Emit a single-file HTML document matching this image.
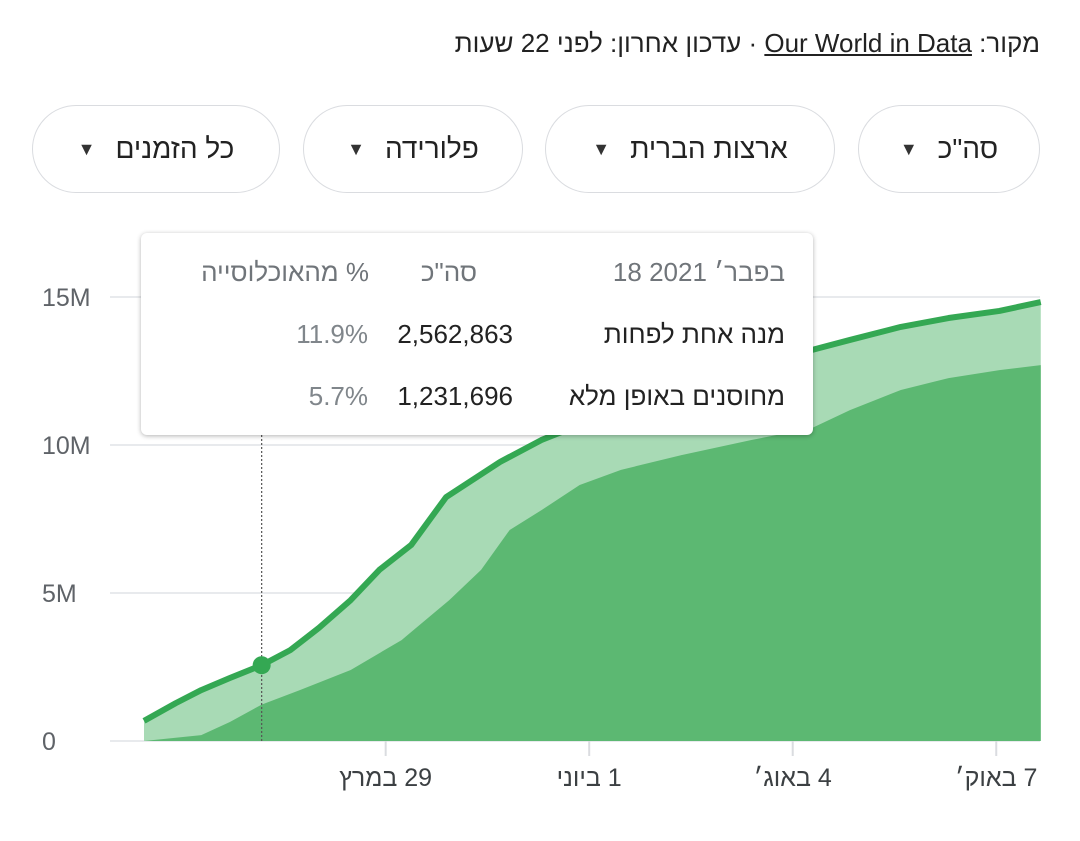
<!DOCTYPE html>
<html><head><meta charset="utf-8"><style>
body{margin:0;width:1080px;height:841px;background:#fff;font-family:"Liberation Sans","Noto Sans CJK SC",sans-serif;overflow:hidden;position:relative}
.hdr{position:absolute;right:40px;top:28px;font-size:26px;color:#222;direction:rtl}
.hdr a{color:#222;text-decoration:underline}
.chip{position:absolute;top:105px;height:88px;border:1.5px solid #dadce0;border-radius:46px;box-sizing:border-box;font-size:28px;color:#222;direction:rtl;display:flex;align-items:center;justify-content:center;gap:20px}
.chip span.a{font-size:18px;color:#333}
.tip{position:absolute;left:141px;top:233px;width:672px;height:202px;background:#fff;border-radius:6px;box-shadow:0 1px 5px rgba(0,0,0,.3);font-size:26px}
.tip div{position:absolute;white-space:nowrap}
</style></head><body>
<div class="hdr">מקור: <a>Our World in Data</a> · עדכון אחרון: לפני 22 שעות</div>
<div class="chip" style="left:858px;width:182px">סה"כ <span class="a">▼</span></div>
<div class="chip" style="left:545px;width:290px">ארצות הברית <span class="a">▼</span></div>
<div class="chip" style="left:303px;width:220px">פלורידה <span class="a">▼</span></div>
<div class="chip" style="left:32px;width:248px">כל הזמנים <span class="a">▼</span></div>
<svg id="chart" width="1080" height="841" style="position:absolute;left:0;top:0"></svg>
<div class="tip">
<div style="right:28px;top:24px;color:#70757a">18 בפבר׳ 2021</div>
<div style="right:336px;top:24px;color:#70757a">סה"כ</div>
<div style="right:444px;top:24px;color:#70757a;direction:rtl">% מהאוכלוסייה</div>
<div style="right:28px;top:86px;color:#222;direction:rtl">מנה אחת לפחות</div>
<div style="right:300px;top:86px;color:#222">2,562,863</div>
<div style="right:445px;top:86px;color:#80868b">11.9%</div>
<div style="right:28px;top:148px;color:#222;direction:rtl">מחוסנים באופן מלא</div>
<div style="right:300px;top:148px;color:#222">1,231,696</div>
<div style="right:445px;top:148px;color:#80868b">5.7%</div>
</div>
<script>
const oneDoseDays=[0,10,18,27,37,46,55,65,74,84,95,112,125,137,150,169,191,210,222,238,253,269,282];
const oneDoseValues=[0.68,1.28,1.72,2.13,2.56,3.07,3.82,4.76,5.78,6.62,8.24,9.43,10.17,10.68,11.18,11.86,12.6,13.21,13.55,13.99,14.29,14.53,14.83];
const fullDays=[0,18,27,37,49,65,81,96,106,115,125,137,150,169,191,210,222,238,253,269,282];
const fullValues=[0,0.2,0.64,1.23,1.72,2.4,3.41,4.76,5.78,7.13,7.8,8.65,9.16,9.66,10.17,10.57,11.18,11.86,12.26,12.53,12.7];
const yTicks=[0,5,10,15];
const yTickLabels=["0","5M","10M","15M"];
const xTickDays=[76,140,204,268];
const xTickLabels=["29 במרץ","1 ביוני","4 באוג׳","7 באוק׳"];
const hoverDay=37, hoverValue=2.56;
const NS="http://www.w3.org/2000/svg",svg=document.getElementById('chart');
const X=d=>144+d*3.18, Y=v=>741-v*29.6;
function mk(t,a){const e=document.createElementNS(NS,t);for(const k in a)e.setAttribute(k,a[k]);svg.appendChild(e);return e;}
yTicks.forEach((v,i)=>{
 const g=mk('line',{x1:110,x2:1040,y1:Y(v),y2:Y(v),stroke:'#e8eaed','stroke-width':2});
 
 
 const t=mk('text',{x:42,y:Y(v)+9,'font-size':25,fill:'#5f6368','font-family':'Liberation Sans'});
 t.textContent=yTickLabels[i];
 
 
});
function area(days,vals){let d='M'+X(days[0])+','+Y(0);days.forEach((x,i)=>d+=' L'+X(x)+','+Y(vals[i]));return d+' L'+X(days[days.length-1])+','+Y(0)+'Z';}
const a1=mk('path',{d:area(oneDoseDays,oneDoseValues),fill:'#a8dab5'});


const a2=mk('path',{d:area(fullDays,fullValues),fill:'#5cb872'});


const ln=mk('path',{d:'M'+oneDoseDays.map((x,i)=>X(x)+','+Y(oneDoseValues[i])).join(' L'),fill:'none',stroke:'#34a853','stroke-width':6,'stroke-linejoin':'round'});


xTickDays.forEach((d,i)=>{
 const tk=mk('line',{x1:X(d),x2:X(d),y1:741,y2:756,stroke:'#dadce0','stroke-width':2});
 
 
 const t=mk('text',{x:X(d),y:786,'text-anchor':'middle','font-size':25,fill:'#3c4043','font-family':'Liberation Sans, Noto Sans CJK SC, sans-serif',direction:'rtl'});
 t.textContent=xTickLabels[i];
 
 
});
const hl=mk('line',{x1:X(hoverDay),x2:X(hoverDay),y1:435,y2:741,stroke:'#555','stroke-width':1.2,'stroke-dasharray':'2,2'});


const dot=mk('circle',{cx:X(hoverDay),cy:Y(hoverValue),r:9,fill:'#34a853'});


</script>
</body></html>
